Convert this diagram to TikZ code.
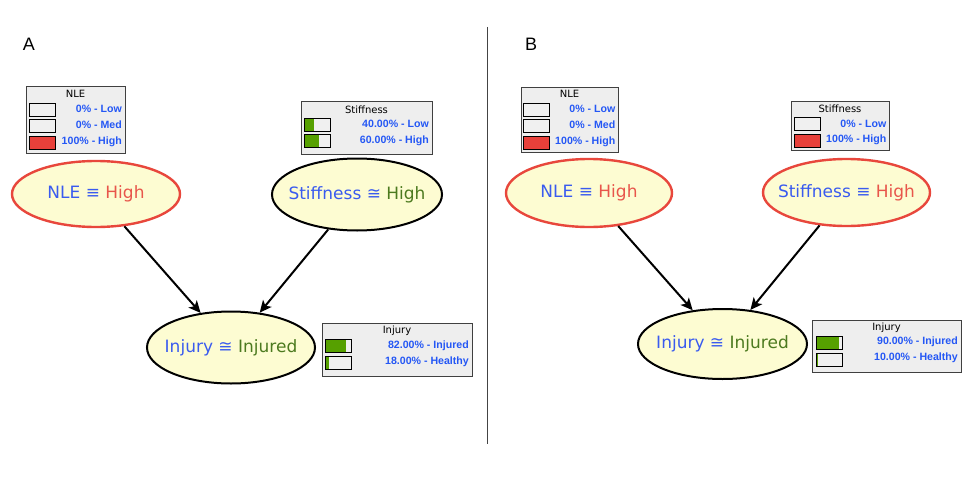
\documentclass[tikz,border=0pt]{standalone}
\usepackage{fontspec}
\setmainfont{DejaVu Sans}
\newfontfamily\labfont{Liberation Sans}
\newfontfamily\valfont{Liberation Sans}
\usetikzlibrary{shapes.geometric,arrows.meta}
\definecolor{ellfill}{HTML}{FDFCD2}
\definecolor{nodered}{HTML}{E8473C}
\definecolor{txtblue}{HTML}{3A5BEF}
\definecolor{txtred}{HTML}{E8564B}
\definecolor{txtgreen}{HTML}{4C7A1F}
\definecolor{valblue}{HTML}{2457F5}
\definecolor{boxfill}{HTML}{EEEEEE}
\definecolor{barbg}{HTML}{F0F0F0}
\definecolor{bargreen}{HTML}{56A000}
\definecolor{barred}{HTML}{E8403A}
\definecolor{divider}{HTML}{444444}
% bar: x, y(top), fraction, colour
\newcommand\mbar[4]{%
  \fill[barbg] (#1,#2) rectangle ++(26,13);
  \fill[#4] (#1,#2) rectangle ++({26*#3},13);
  \draw[line width=0.9pt,black] (#1,#2) rectangle ++(26,13);}
\newcommand\ztext[1]{\makebox[0pt]{#1}}
\begin{document}
\begin{tikzpicture}[x=1pt,y=-1pt,
  bn/.style={ellipse,draw=black,line width=2pt,fill=ellfill,inner sep=0pt,
    font=\fontsize{17}{20}\selectfont},
  bnred/.style={bn,draw=nodered,line width=2.4pt},
  mon/.style={draw=black!75,fill=boxfill,line width=0.8pt,inner sep=0pt},
  montitle/.style={inner sep=0pt,font=\fontsize{10}{11}\selectfont,text=black},
  monval/.style={inner sep=0pt,anchor=east,font=\valfont\bfseries\fontsize{10.6}{11}\selectfont,text=valblue},
  link/.style={line width=2pt,-{Stealth[length=12pt,width=11pt,inset=3pt]}},
  panellab/.style={inner sep=0pt,font=\labfont\fontsize{18}{20}\selectfont}]
\useasboundingbox (0,0) rectangle (979,487);
\fill[white] (0,0) rectangle (979,487);

% panel labels and divider
\node[panellab] (labA) at (29,44.5) {A};
\node[panellab] (labB) at (531,44.5) {B};
\coordinate (divtop) at (487,27);
\coordinate (divbot) at (487,444);
\draw[divider,line width=1pt] (divtop) -- (divbot);

% ================= Panel A =================
\node[bnred,minimum width=168pt,minimum height=66pt] (nleA) at (96,194)
  {\ztext{\textcolor{txtblue}{NLE ≡} \textcolor{txtred}{High}}};
\node[bn,minimum width=170pt,minimum height=72pt] (stA) at (357,194.5)
  {\ztext{\textcolor{txtblue}{Stiffness ≅} \textcolor{txtgreen}{High}}};
\node[bn,minimum width=168pt,minimum height=72pt] (injA) at (231,347.5)
  {\ztext{\textcolor{txtblue}{Injury ≅} \textcolor{txtgreen}{Injured}}};
\draw[link] (nleA) -- (injA);
\draw[link] (stA) -- (injA);

% NLE monitor A
\node[mon,minimum width=99pt,minimum height=67pt] (mnleA) at (75.5,119.5) {};
\node[montitle] (tnleA) at (75.5,94) {NLE};
\mbar{29}{103}{0}{barred}
\mbar{29}{119.5}{0}{barred}
\mbar{29}{136}{1}{barred}
\node[monval] (vnleA1) at (122,108.5) {0\% - Low};
\node[monval] (vnleA2) at (122,125) {0\% - Med};
\node[monval] (vnleA3) at (122,141.5) {100\% - High};

% Stiffness monitor A
\node[mon,minimum width=131pt,minimum height=53pt] (mstA) at (366.5,127.5) {};
\node[montitle] (tstA) at (366.5,110) {Stiffness};
\mbar{304}{118}{0.38}{bargreen}
\mbar{304}{134.5}{0.58}{bargreen}
\node[monval] (vstA1) at (429,124) {40.00\% - Low};
\node[monval] (vstA2) at (429,141) {60.00\% - High};

% Injury monitor A
\node[mon,minimum width=150pt,minimum height=53pt] (minjA) at (397,349.5) {};
\node[montitle] (tinjA) at (397,331) {Injury};
\mbar{325.5}{339.5}{0.8}{bargreen}
\mbar{325.5}{356}{0.15}{bargreen}
\node[monval] (vinjA1) at (469,346) {82.00\% - Injured};
\node[monval] (vinjA2) at (469,362) {18.00\% - Healthy};

% ================= Panel B =================
\node[bnred,minimum width=166pt,minimum height=68pt] (nleB) at (589,193)
  {\ztext{\textcolor{txtblue}{NLE ≡} \textcolor{txtred}{High}}};
\node[bnred,minimum width=167pt,minimum height=67pt] (stB) at (846.5,192.5)
  {\ztext{\textcolor{txtblue}{Stiffness ≡} \textcolor{txtred}{High}}};
\node[bn,minimum width=169pt,minimum height=70pt] (injB) at (722.5,344)
  {\ztext{\textcolor{txtblue}{Injury ≅} \textcolor{txtgreen}{Injured}}};
\draw[link] (nleB) -- (injB);
\draw[link] (stB) -- (injB);

% NLE monitor B
\node[mon,minimum width=97pt,minimum height=65pt] (mnleB) at (569.5,119.5) {};
\node[montitle] (tnleB) at (569.5,94) {NLE};
\mbar{523}{103}{0}{barred}
\mbar{523}{119.5}{0}{barred}
\mbar{523}{136}{1}{barred}
\node[monval] (vnleB1) at (615.5,108.5) {0\% - Low};
\node[monval] (vnleB2) at (615.5,125) {0\% - Med};
\node[monval] (vnleB3) at (615.5,141.5) {100\% - High};

% Stiffness monitor B
\node[mon,minimum width=98pt,minimum height=49pt] (mstB) at (840,125.5) {};
\node[montitle] (tstB) at (840,109) {Stiffness};
\mbar{794.5}{117.5}{0}{barred}
\mbar{794.5}{134}{1}{barred}
\node[monval] (vstB1) at (886.5,123.5) {0\% - Low};
\node[monval] (vstB2) at (886.5,139.5) {100\% - High};

% Injury monitor B
\node[mon,minimum width=149pt,minimum height=52pt] (minjB) at (886.5,346) {};
\node[montitle] (tinjB) at (886.5,328) {Injury};
\mbar{816}{336.5}{0.88}{bargreen}
\mbar{816}{353}{0.08}{bargreen}
\node[monval] (vinjB1) at (958,342) {90.00\% - Injured};
\node[monval] (vinjB2) at (958,358) {10.00\% - Healthy};
\end{tikzpicture}
\end{document}
